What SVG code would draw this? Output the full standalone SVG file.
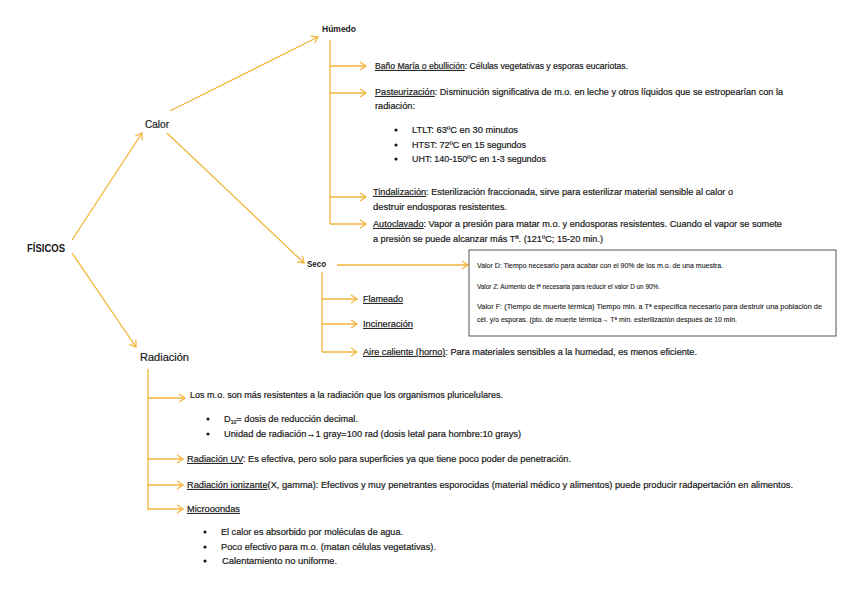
<svg xmlns="http://www.w3.org/2000/svg" width="848" height="599" viewBox="0 0 848 599">
<style>
text{font-family:"Liberation Sans",Arial,sans-serif;fill:#1a1a1a;font-size:9px;stroke:#1a1a1a;stroke-width:0.2}
.b{font-weight:bold;stroke-width:0}
.n{font-size:10px}
.s{font-size:7px;stroke-width:0.1}
.u{text-decoration:underline}
.c{fill:none;stroke:#F3B53A;stroke-width:1.3}
</style>
<defs>
<marker id="ah" markerWidth="12" markerHeight="12" viewBox="-8 -6 10 12" refX="0" refY="0" orient="auto" markerUnits="userSpaceOnUse">
<path d="M-6,-4 L0,0 L-6,4" fill="none" stroke="#F3B53A" stroke-width="1.3"/>
</marker>
</defs>
<rect width="848" height="599" fill="#fff"/>
<g id="connectors">
<path class="c" d="M72,240 L142,133" marker-end="url(#ah)"/>
<path class="c" d="M72,253 L136,347" marker-end="url(#ah)"/>
<path class="c" d="M170,111 L318,37" marker-end="url(#ah)"/>
<path class="c" d="M167,133 L304,263" marker-end="url(#ah)"/>
<path class="c" d="M330,40 V224"/>
<path class="c" d="M330,66 H366" marker-end="url(#ah)"/>
<path class="c" d="M330,93 H366" marker-end="url(#ah)"/>
<path class="c" d="M330,197 H366" marker-end="url(#ah)"/>
<path class="c" d="M330,224 H366" marker-end="url(#ah)"/>
<path class="c" d="M337,265 H468" marker-end="url(#ah)"/>
<path class="c" d="M322,272 V352"/>
<path class="c" d="M322,299 H357" marker-end="url(#ah)"/>
<path class="c" d="M322,324 H357" marker-end="url(#ah)"/>
<path class="c" d="M322,352 H357" marker-end="url(#ah)"/>
<path class="c" d="M148,369 V510"/>
<path class="c" d="M148,398 H185" marker-end="url(#ah)"/>
<path class="c" d="M148,459 H183" marker-end="url(#ah)"/>
<path class="c" d="M148,485 H183" marker-end="url(#ah)"/>
<path class="c" d="M148,509 H183" marker-end="url(#ah)"/>
</g>
<g id="fisicos"><text class="b n" x="27" y="252" textLength="38" lengthAdjust="spacingAndGlyphs">FÍSICOS</text></g>
<g id="calor"><text class="n" x="145" y="128" textLength="24" lengthAdjust="spacingAndGlyphs">Calor</text></g>
<g id="radiacion"><text class="n" x="140" y="361" textLength="49" lengthAdjust="spacingAndGlyphs">Radiación</text></g>
<g id="humedo"><text class="b" x="322" y="32" textLength="34" lengthAdjust="spacingAndGlyphs">Húmedo</text></g>
<g id="bano"><text x="375" y="69" textLength="253" lengthAdjust="spacingAndGlyphs"><tspan class="u">Baño María o ebullición</tspan>: Células vegetativas y esporas eucariotas.</text></g>
<g id="pasteurizacion">
<text x="375" y="95" textLength="408" lengthAdjust="spacingAndGlyphs"><tspan class="u">Pasteurización</tspan>: Disminución significativa de m.o. en leche y otros líquidos que se estropearían con la</text>
<text x="375" y="109" textLength="40" lengthAdjust="spacingAndGlyphs">radiación:</text>
<circle cx="396" cy="130" r="1.6" fill="#1a1a1a"/>
<text x="412" y="133" textLength="106" lengthAdjust="spacingAndGlyphs">LTLT: 63ºC  en 30 minutos</text>
<circle cx="396" cy="145" r="1.6" fill="#1a1a1a"/>
<text x="412" y="148" textLength="114" lengthAdjust="spacingAndGlyphs">HTST: 72ºC  en 15 segundos</text>
<circle cx="396" cy="159" r="1.6" fill="#1a1a1a"/>
<text x="412" y="162" textLength="134" lengthAdjust="spacingAndGlyphs">UHT: 140-150ºC en 1-3 segundos</text>
</g>
<g id="tindalizacion">
<text x="373" y="195" textLength="360" lengthAdjust="spacingAndGlyphs"><tspan class="u">Tindalización</tspan>: Esterilización fraccionada, sirve para esterilizar material sensible al calor o</text>
<text x="373" y="210" textLength="134" lengthAdjust="spacingAndGlyphs">destruir endosporas  resistentes.</text>
</g>
<g id="autoclavado">
<text x="373" y="227" textLength="409" lengthAdjust="spacingAndGlyphs"><tspan class="u">Autoclavado</tspan>: Vapor a presión para matar m.o. y endosporas resistentes. Cuando el vapor se somete</text>
<text x="373" y="242" textLength="230" lengthAdjust="spacingAndGlyphs">a  presión se puede alcanzar más Tª. (121ºC; 15-20 min.)</text>
</g>
<g id="seco"><text class="b" x="307" y="267" textLength="19" lengthAdjust="spacingAndGlyphs">Seco</text></g>
<g id="valores">
<rect x="469" y="250" width="367" height="86" fill="#fff" stroke="#555" stroke-width="1"/>
<text class="s" x="477" y="268" textLength="246" lengthAdjust="spacingAndGlyphs">Valor D: Tiempo necesario para acabar con el 90% de los m.o. de una muestra.</text>
<text class="s" x="477" y="289" textLength="183" lengthAdjust="spacingAndGlyphs">Valor Z: Aumento de tª necesaria para reducir el valor D un 90%.</text>
<text class="s" x="477" y="309" textLength="345" lengthAdjust="spacingAndGlyphs">Valor F: (Tiempo de muerte térmica) Tiempo min. a Tª específica necesario para destruir una población de</text>
<text class="s" x="477" y="322" textLength="260" lengthAdjust="spacingAndGlyphs">cél. y/o esporas. (pto. de muerte térmica→ Tª min. esterilización después de 10 min.</text>
</g>
<g id="flameado"><text x="363" y="302" textLength="40" lengthAdjust="spacingAndGlyphs"><tspan class="u">Flameado</tspan></text></g>
<g id="incineracion"><text x="363" y="327" textLength="50" lengthAdjust="spacingAndGlyphs"><tspan class="u">Incineración</tspan></text></g>
<g id="aire"><text x="363" y="355" textLength="334" lengthAdjust="spacingAndGlyphs"><tspan class="u">Aire caliente (horno)</tspan>: Para materiales sensibles a la humedad, es menos eficiente.</text></g>
<g id="resistencia">
<text x="190" y="398" textLength="313" lengthAdjust="spacingAndGlyphs">Los m.o. son más resistentes a la radiación que los organismos pluricelulares.</text>
<circle cx="208" cy="419" r="1.6" fill="#1a1a1a"/>
<text x="224" y="422" textLength="134" lengthAdjust="spacingAndGlyphs">D<tspan font-size="5" dy="1.5">10</tspan><tspan dy="-1.5">= dosis de reducción decimal.</tspan></text>
<circle cx="208" cy="434" r="1.6" fill="#1a1a1a"/>
<text x="224" y="437" textLength="297" lengthAdjust="spacingAndGlyphs">Unidad de radiación→1 gray=100 rad (dosis letal para hombre:10 grays)</text>
</g>
<g id="uv"><text x="187" y="462" textLength="384" lengthAdjust="spacingAndGlyphs"><tspan class="u">Radiación UV</tspan>: Es efectiva, pero solo para superficies  ya que tiene poco poder de penetración.</text></g>
<g id="ionizante"><text x="187" y="488" textLength="606" lengthAdjust="spacingAndGlyphs"><tspan class="u">Radiación ionizante</tspan>(X, gamma): Efectivos y muy penetrantes esporocidas (material médico y alimentos) puede producir radapertación en alimentos.</text></g>
<g id="microondas">
<text x="187" y="512" textLength="53" lengthAdjust="spacingAndGlyphs"><tspan class="u">Microoondas</tspan></text>
<circle cx="205" cy="532" r="1.6" fill="#1a1a1a"/>
<text x="221" y="535" textLength="182" lengthAdjust="spacingAndGlyphs">El calor es absorbido por moléculas de agua.</text>
<circle cx="205" cy="547" r="1.6" fill="#1a1a1a"/>
<text x="221" y="550" textLength="215" lengthAdjust="spacingAndGlyphs">Poco efectivo para m.o. (matan células vegetativas).</text>
<circle cx="205" cy="561" r="1.6" fill="#1a1a1a"/>
<text x="222" y="564" textLength="115" lengthAdjust="spacingAndGlyphs">Calentamiento no uniforme.</text>
</g>
</svg>
